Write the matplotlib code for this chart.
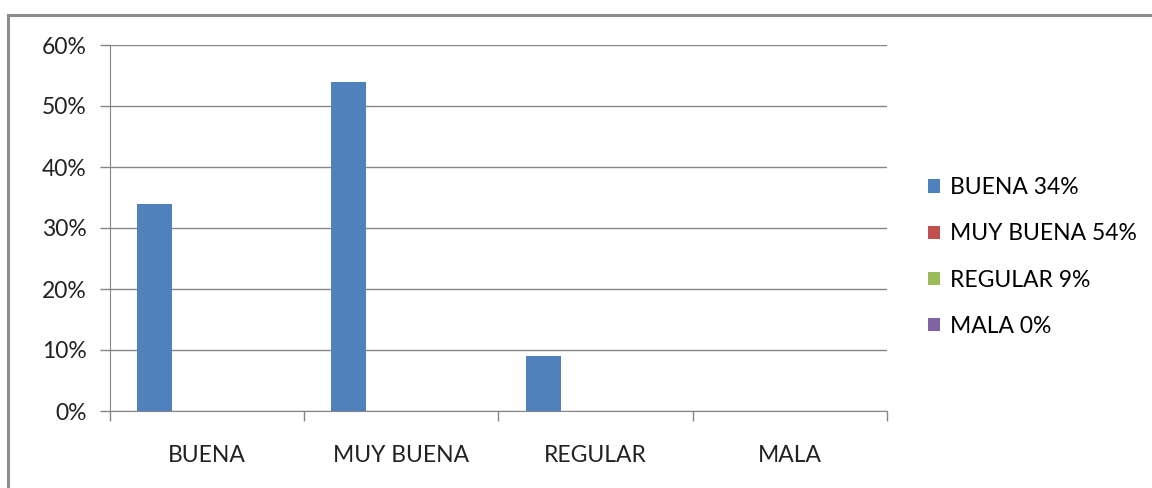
import matplotlib.pyplot as plt
from matplotlib.patches import Patch
from matplotlib.lines import Line2D
import numpy as np

categories = ['BUENA', 'MUY BUENA', 'REGULAR', 'MALA']
values = [34, 54, 9, 0]
legend_labels = ['BUENA 34%', 'MUY BUENA 54%', 'REGULAR 9%', 'MALA 0%']
legend_colors = ['#4F81BD', '#C0504D', '#9BBB59', '#8064A2']
yticks = [0, 10, 20, 30, 40, 50, 60]

plt.rcParams['font.family'] = ['Lato', 'DejaVu Sans']
gray = '#868686'
fs = 16.5

fig = plt.figure(figsize=(11.52, 4.88), dpi=100)
ax = fig.add_axes([110/1152, 1-411/488, (887-110)/1152, (411-45)/488])

# outer chart frame (only top and left visible)
fig.add_artist(Line2D([8/1152, 1], [1-15/488, 1-15/488], color='#8c8c8c', lw=2.2))
fig.add_artist(Line2D([8/1152, 8/1152], [0, 1-15/488], color='#8c8c8c', lw=2.2))

nseries = 4
w = 0.18
x = np.arange(len(categories))
# only first series position is used in every category
ax.bar(x + (0 - (nseries-1)/2) * w, values, width=w, color=legend_colors[0], zorder=3)

ax.set_xlim(-0.5, len(categories) - 0.5)
ax.set_ylim(0, 60)
ax.set_yticks(yticks)
ax.set_yticklabels([f'{v}%' for v in yticks])
ax.yaxis.grid(True, color=gray, lw=1)
ax.set_axisbelow(True)

ax.set_xticks(x)
ax.set_xticklabels(categories)
ax.set_xticks(np.arange(-0.5, len(categories), 1), minor=True)
ax.tick_params(axis='x', which='major', length=0, pad=24.5, labelsize=fs, colors='#222222')
ax.tick_params(axis='x', which='minor', length=7, color=gray, width=1)
ax.tick_params(axis='y', length=7, color=gray, width=1, pad=10, labelsize=fs, labelcolor='#222222')

for s in ['top', 'right']:
    ax.spines[s].set_visible(False)
for s in ['left', 'bottom']:
    ax.spines[s].set_color(gray)

handles = [Patch(facecolor=c, edgecolor='none') for c in legend_colors]
fig.legend(handles, legend_labels, loc='center left', bbox_to_anchor=(928/1152, 1-257/488),
           frameon=False, fontsize=fs, handlelength=0.52, handleheight=0.52,
           handletextpad=0.45, labelspacing=1.1, borderaxespad=0, borderpad=0)

fig.savefig('out.png', dpi=100)
